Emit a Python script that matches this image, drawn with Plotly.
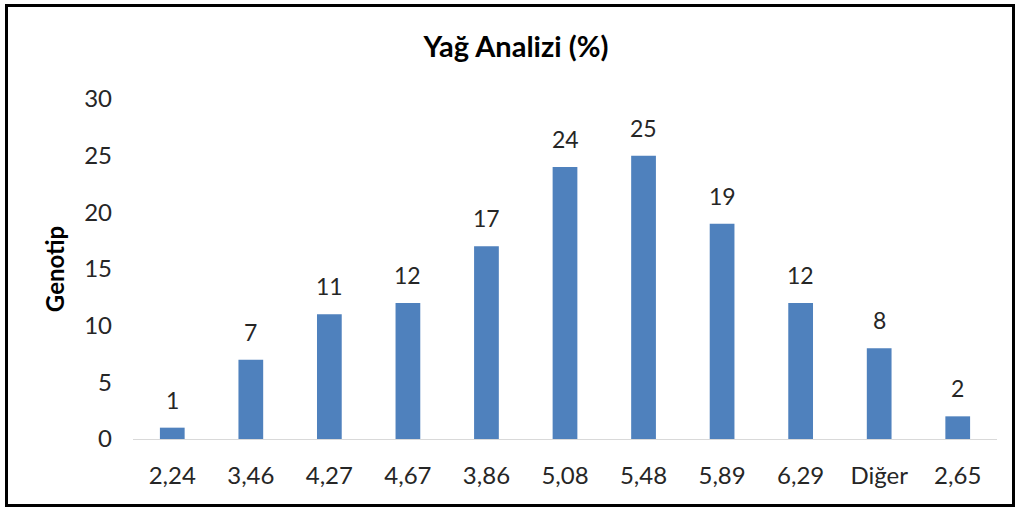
import plotly.graph_objects as go

categories = ["2,24", "3,46", "4,27", "4,67", "3,86", "5,08", "5,48", "5,89", "6,29", "Diğer", "2,65"]
values = [1, 7, 11, 12, 17, 24, 25, 19, 12, 8, 2]
y_ticks = [0, 5, 10, 15, 20, 25, 30]

FONT = "Lato, Carlito, Calibri, sans-serif"

fig = go.Figure(go.Bar(
    x=categories, y=values,
    marker=dict(color="#4F81BD", line=dict(width=0)),
))

for c, v in zip(categories, values):
    fig.add_annotation(x=c, y=v, text=str(v), showarrow=False, yanchor="bottom", yshift=12,
                       font=dict(family=FONT, size=23, color="#262626"))

L, R, T, B = 133, 23, 99, 68
W, H = 1020, 507
pw, ph = W - L - R, H - T - B

def px_to_paper_x(px):
    return (px - L) / pw

def px_to_paper_y(py):
    return (H - B - py) / ph

fig.update_layout(
    width=W, height=H,
    margin=dict(l=L, r=R, t=T, b=B),
    paper_bgcolor="white", plot_bgcolor="white",
    bargap=0.685,
    showlegend=False,
    title=dict(text="<b>Yağ Analizi (%)</b>", x=px_to_paper_x(516), xref="paper", xanchor="center",
               y=1 - 47 / H, yanchor="middle",
               font=dict(family=FONT, size=29, color="black")),
    font=dict(family=FONT, size=23, color="#262626"),
    xaxis=dict(showgrid=False, showline=True, linecolor="#D9D9D9", linewidth=1,
               ticks="", ticklabelstandoff=15, tickfont=dict(family=FONT, size=24, color="#262626")),
    yaxis=dict(range=[0, 30], tickvals=y_ticks, showgrid=False, showline=False, zeroline=False,
               ticks="", ticklabelstandoff=20, tickfont=dict(family=FONT, size=24, color="#262626"),
               title=dict(text="<b>Genotip</b>", standoff=12, font=dict(family=FONT, size=24, color="black"))),
    shapes=[dict(type="rect", xref="paper", yref="paper",
                 x0=px_to_paper_x(6.5), x1=px_to_paper_x(1013.5),
                 y0=px_to_paper_y(505.5), y1=px_to_paper_y(5.5),
                 line=dict(color="black", width=3), fillcolor="rgba(0,0,0,0)", layer="above")],
)

fig.write_html("out.html", config={"displayModeBar": False},
               post_script="document.body.style.margin='0';document.body.style.padding='0';")
